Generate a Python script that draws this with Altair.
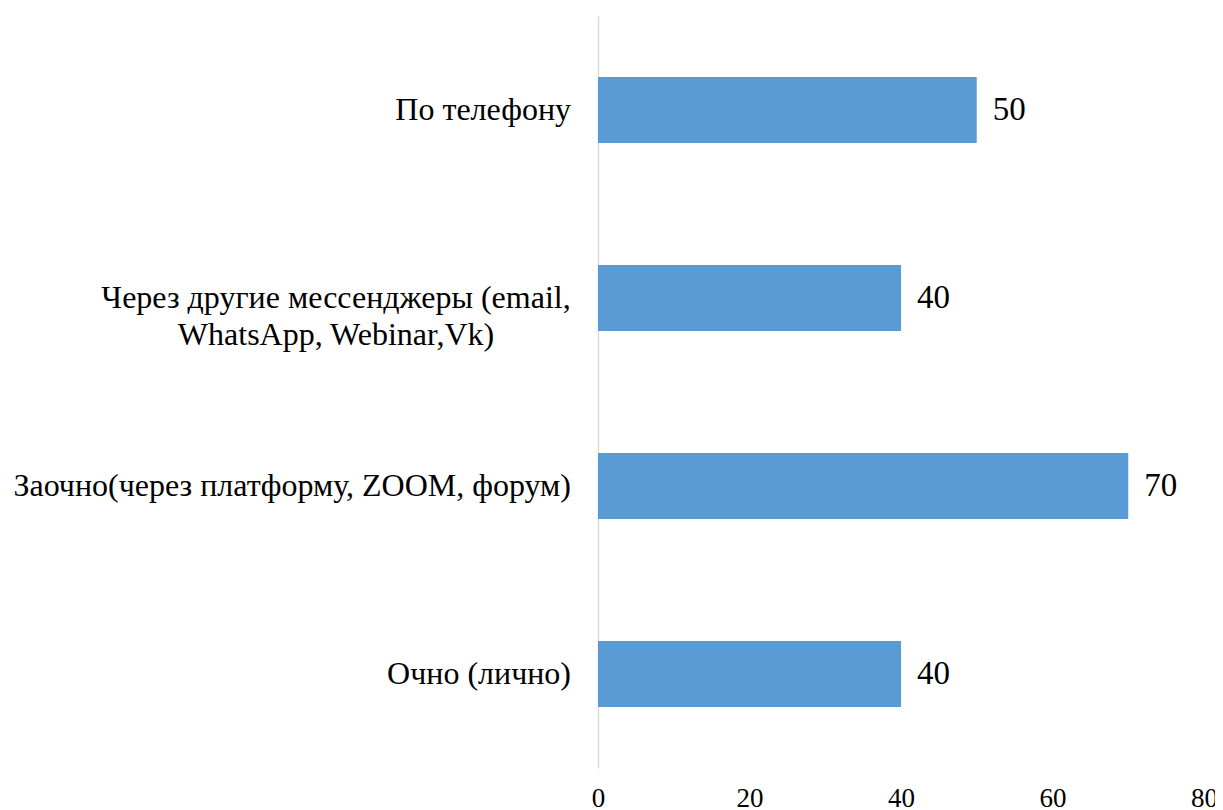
import altair as alt
import pandas as pd

categories = [
    "По телефону",
    "Через другие мессенджеры (email,|WhatsApp, Webinar,Vk)",
    "Заочно(через платформу, ZOOM, форум)",
    "Очно (лично)",
]
values = [50, 40, 70, 40]
x_ticks = [0, 20, 40, 60, 80]

df = pd.DataFrame({"cat": categories, "val": values})
df["multi"] = df["cat"].str.contains("|", regex=False)

FONT = "'Liberation Serif', 'Times New Roman', serif"

yscale = alt.Scale(paddingInner=0.65, paddingOuter=0.325)

y = alt.Y(
    "cat:N",
    sort=categories,
    title=None,
    scale=yscale,
    axis=alt.Axis(
        labels=False,
        ticks=False,
        domainColor="#d9d9d9",
        domainWidth=1.5,
        grid=False,
    ),
)

x = alt.X(
    "val:Q",
    title=None,
    scale=alt.Scale(domain=[0, 80], nice=False),
    axis=alt.Axis(
        values=x_ticks,
        labelFont=FONT,
        labelFontSize=27,
        labelColor="#000000",
        labelPadding=17,
        ticks=False,
        domain=False,
        grid=False,
        labelFlush=False,
    ),
)

bars = alt.Chart(df).mark_bar(color="#5b9bd5").encode(x=x, y=y)
labels = alt.Chart(df).mark_text(
    align="left", baseline="middle", dx=16, font=FONT, fontSize=33, color="#000000"
).encode(x="val:Q", y=alt.Y("cat:N", sort=categories), text="val:Q")

cat_single = alt.Chart(df).transform_filter("!datum.multi").mark_text(
    align="right", baseline="middle", font=FONT, fontSize=32, color="#000000"
).encode(x=alt.value(-27), y=alt.Y("cat:N", sort=categories), text="cat:N")

cat_multi = alt.Chart(df).transform_filter("datum.multi").mark_text(
    align="center", baseline="middle", font=FONT, fontSize=32, color="#000000",
    lineBreak="|", lineHeight=37,
).encode(x=alt.value(-262), y=alt.Y("cat:N", sort=categories), text="cat:N")

chart = (
    alt.layer(bars, labels, cat_single, cat_multi)
    .properties(
        width=606,
        height=752,
        autosize=alt.AutoSizeParams(type="none"),
        padding={"left": 590, "top": 8, "right": 11, "bottom": 40},
        background="white",
    )
    .configure(font=FONT)
    .configure_view(strokeWidth=0, stroke="transparent")
)

chart.save("out.html", embed_options={"renderer": "svg", "actions": False})
